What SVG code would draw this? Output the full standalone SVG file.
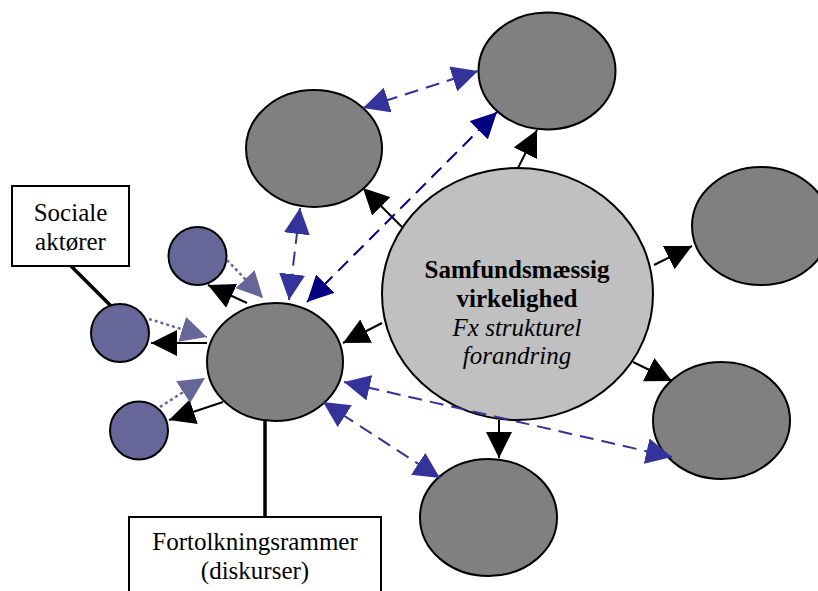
<svg xmlns="http://www.w3.org/2000/svg" width="818" height="591" viewBox="0 0 818 591">
<style>
.ell{fill:#808080;stroke:#000;stroke-width:2}
.cen{fill:#C0C0C0;stroke:#000;stroke-width:2}
.sm{fill:#666699;stroke:#000;stroke-width:2}
.box{fill:#fff;stroke:#000;stroke-width:2}
.txt{font-family:"Liberation Serif","Times New Roman",serif;font-size:25px;text-anchor:middle;fill:#000}
.b{font-weight:bold}
.i{font-style:italic}
.blk{stroke:#000;stroke-width:2;fill:none;marker-end:url(#hBlack)}
.dot{stroke:#666699;stroke-width:2.5;stroke-dasharray:3 3;fill:none;marker-end:url(#hPurple)}
.dsh{stroke:#333399;stroke-width:2;stroke-dasharray:14 8;fill:none;marker-start:url(#hBlue);marker-end:url(#hBlue)}
.nvy{stroke:#000080;stroke-width:2;stroke-dasharray:14 8;fill:none;marker-start:url(#hNavy);marker-end:url(#hNavy)}
.thk{stroke:#000;stroke-width:3.5;fill:none}
</style>
<defs>
<marker id="hBlack" viewBox="0 0 26 26" refX="26" refY="13" markerWidth="26" markerHeight="26" markerUnits="userSpaceOnUse" orient="auto-start-reverse"><path d="M0,0 L26,13 L0,26 z" fill="#000"/></marker>
<marker id="hBlue" viewBox="0 0 26 26" refX="26" refY="13" markerWidth="26" markerHeight="26" markerUnits="userSpaceOnUse" orient="auto-start-reverse"><path d="M0,0 L26,13 L0,26 z" fill="#333399"/></marker>
<marker id="hNavy" viewBox="0 0 26 26" refX="26" refY="13" markerWidth="26" markerHeight="26" markerUnits="userSpaceOnUse" orient="auto-start-reverse"><path d="M0,0 L26,13 L0,26 z" fill="#000080"/></marker>
<marker id="hPurple" viewBox="0 0 26 26" refX="26" refY="13" markerWidth="26" markerHeight="26" markerUnits="userSpaceOnUse" orient="auto-start-reverse"><path d="M0,0 L26,13 L0,26 z" fill="#666699"/></marker>
</defs>

<g id="label-lines">
<line class="thk" x1="71" y1="266" x2="111" y2="306"/>
<line class="thk" x1="265" y1="420" x2="265" y2="518"/>
</g>

<g id="box-sociale">
<rect class="box" x="12" y="186" width="117" height="80"/>
<text class="txt" x="70.5" y="221">Sociale</text>
<text class="txt" x="70.5" y="250">aktører</text>
</g>
<g id="box-fortolkning">
<rect class="box" x="129" y="517" width="252" height="80"/>
<text class="txt" x="255" y="550">Fortolkningsrammer</text>
<text class="txt" x="255" y="579">(diskurser)</text>
</g>

<g id="central">
<ellipse class="cen" cx="517.5" cy="294" rx="135.5" ry="126"/>
<text class="txt b" x="517" y="278">Samfundsmæssig</text>
<text class="txt b" x="517" y="307">virkelighed</text>
<text class="txt i" x="517" y="336">Fx strukturel</text>
<text class="txt i" x="517" y="364">forandring</text>
</g>
<g id="node-topright"><ellipse class="ell" cx="547" cy="71" rx="68.5" ry="58.5"/></g>
<g id="node-upperleft"><ellipse class="ell" cx="314" cy="148.5" rx="68" ry="58.5"/></g>
<g id="node-left"><ellipse class="ell" cx="275" cy="362" rx="68" ry="59"/></g>
<g id="node-right"><ellipse class="ell" cx="761" cy="226" rx="69" ry="59"/></g>
<g id="node-bottomright"><ellipse class="ell" cx="721.5" cy="420.5" rx="68.5" ry="58.5"/></g>
<g id="node-bottom"><ellipse class="ell" cx="488.5" cy="517.5" rx="68.5" ry="58.5"/></g>
<g id="actor-top"><circle class="sm" cx="197.5" cy="256" r="29"/></g>
<g id="actor-mid"><circle class="sm" cx="120" cy="333" r="29"/></g>
<g id="actor-bottom"><circle class="sm" cx="139" cy="430.5" r="29"/></g>

<g id="connectors">
<line class="blk" x1="402" y1="227" x2="363" y2="188"/>
<line class="blk" x1="518" y1="168" x2="537" y2="130"/>
<line class="blk" x1="654" y1="265" x2="692" y2="246"/>
<line class="blk" x1="633" y1="362" x2="672" y2="381"/>
<line class="blk" x1="499" y1="420" x2="499" y2="458"/>
<line class="blk" x1="382" y1="323" x2="343" y2="343"/>
<line class="blk" x1="247" y1="303" x2="208" y2="285"/>
<line class="blk" x1="207" y1="343" x2="151" y2="343"/>
<line class="blk" x1="223" y1="402" x2="169" y2="420"/>
<line class="dot" x1="227" y1="260" x2="263" y2="298"/>
<line class="dot" x1="149" y1="319" x2="207" y2="337"/>
<line class="dot" x1="160" y1="407" x2="205" y2="378"/>
<line class="dsh" x1="363" y1="108" x2="478" y2="71"/>
<line class="dsh" x1="300" y1="208" x2="289" y2="300"/>
<line class="nvy" x1="307" y1="302" x2="497" y2="112"/>
<line class="dsh" x1="344" y1="382" x2="672" y2="457"/>
<line class="dsh" x1="323" y1="402" x2="440" y2="478"/>
</g>
</svg>
